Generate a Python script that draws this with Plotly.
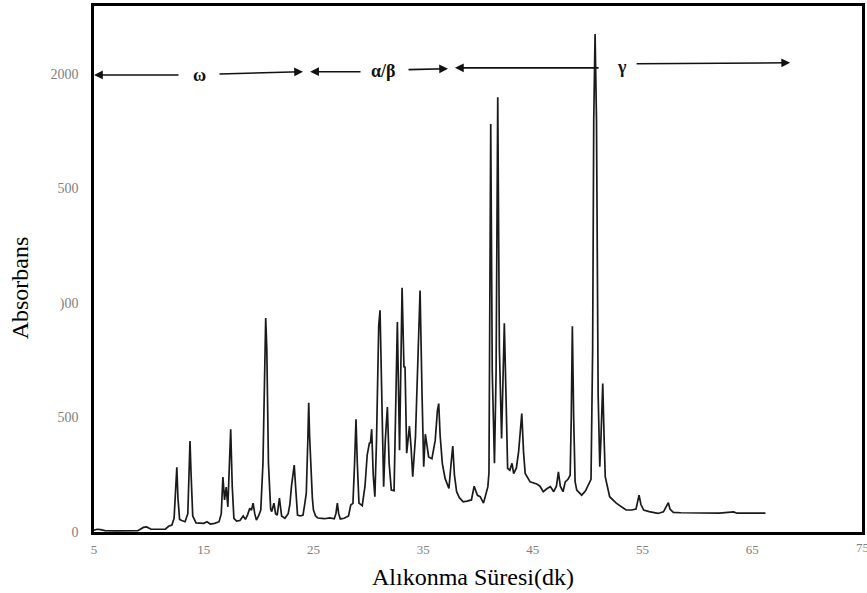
import plotly.graph_objects as go

retention_time = [
    5.0, 5.3, 5.6, 6.0, 7.0, 8.0, 9.0, 9.5, 9.8, 10.2, 11.0, 11.5, 11.8, 12.1, 12.3, 12.45, 12.55, 12.65, 12.8,
    13.0, 13.3, 13.55, 13.65, 13.75, 13.85, 14.0, 14.3, 15.0, 15.3, 15.6, 16.0, 16.4, 16.6, 16.75, 16.9, 17.05,
    17.2, 17.35, 17.46, 17.6, 17.75, 18.0, 18.3, 18.6, 18.8, 19.0, 19.2, 19.35, 19.5, 19.65, 19.8, 20.0, 20.2,
    20.4, 20.55, 20.65, 20.75, 20.9, 21.1, 21.2, 21.4, 21.55, 21.7, 21.9, 22.1, 22.4, 22.7, 22.85, 23.0, 23.1,
    23.25, 23.4, 23.55, 23.8, 24.05, 24.2, 24.35, 24.5, 24.57, 24.65, 24.75, 24.9, 25.0, 25.2, 25.4, 26.0, 26.5,
    26.9, 27.05, 27.18, 27.3, 27.45, 27.8, 28.2, 28.4, 28.6, 28.75, 28.88, 29.0, 29.15, 29.45, 29.7, 29.9, 30.1,
    30.2, 30.31, 30.45, 30.6, 30.75, 30.85, 30.95, 31.07, 31.2, 31.4, 31.55, 31.74, 31.9, 32.1, 32.35, 32.5,
    32.65, 32.85, 33.08, 33.25, 33.35, 33.5, 33.65, 33.75, 33.9, 34.05, 34.3, 34.55, 34.72, 34.9, 35.05, 35.2,
    35.35, 35.5, 35.8, 36.1, 36.3, 36.42, 36.55, 36.75, 37.0, 37.35, 37.55, 37.7, 37.85, 38.05, 38.3, 38.65,
    39.0, 39.4, 39.65, 39.95, 40.2, 40.5, 40.9, 41.0, 41.16, 41.3, 41.5, 41.65, 41.8, 41.95, 42.15, 42.25, 42.4,
    42.55, 42.7, 42.9, 43.1, 43.25, 43.5, 43.7, 43.85, 43.99, 44.15, 44.3, 44.75, 45.0, 45.35, 45.65, 45.95,
    46.3, 46.6, 46.9, 47.15, 47.33, 47.5, 47.75, 47.95, 48.2, 48.4, 48.5, 48.6, 48.72, 48.85, 49.0, 49.45, 49.8,
    50.05, 50.3, 50.45, 50.55, 50.67, 50.8, 50.95, 51.1, 51.2, 51.37, 51.5, 51.6, 52.0, 52.6, 53.5, 54.0, 54.4,
    54.55, 54.68, 54.85, 55.1, 55.6, 56.4, 56.9, 57.15, 57.35, 57.5, 57.8, 58.5, 60.0, 62.0, 63.3, 63.6, 65.0,
    66.2,
]
absorbance = [
    8, 12, 10, 6, 5, 5, 6, 20, 22, 12, 10, 12, 25, 30, 60, 200, 283, 150, 55,
    50, 45, 80, 300, 397, 250, 70, 40, 38, 45, 35, 38, 45, 80, 240, 140, 196,
    110, 300, 449, 200, 60, 48, 50, 70, 55, 75, 104, 95, 126, 80, 52, 70, 96,
    300, 800, 934, 800, 300, 100, 89, 126, 80, 74, 148, 70, 60, 80, 120, 200, 235,
    292, 180, 74, 70, 74, 120, 170, 420, 564, 420, 300, 150, 96, 70, 61, 58, 62,
    58, 80, 126, 80, 57, 60, 70, 118, 125, 300, 492, 300, 126, 115, 200, 336, 388,
    390, 449, 250, 154, 400, 758, 900, 968, 700, 198, 400, 546, 300, 183, 180, 500,
    917, 357, 1067, 721, 720, 344, 400, 462, 370, 241, 415, 800, 1055, 600, 285, 427,
    370, 328, 320, 400, 530, 561, 420, 299, 234, 190, 300, 375, 250, 176, 150, 132,
    135, 140, 200, 160, 154, 126, 198, 260, 1782, 700, 300, 700, 1898, 800, 408, 600, 912,
    600, 278, 270, 300, 255, 280, 350, 450, 517, 350, 256, 219, 215, 210, 200, 176,
    190, 198, 176, 200, 263, 200, 176, 219, 230, 248, 500, 898, 500, 220, 183, 161, 180,
    205, 230, 800, 1800, 2175, 1800, 600, 285, 400, 648, 400, 241, 154, 126, 96, 96, 100,
    140, 161, 120, 96, 89, 81, 88, 110, 128, 100, 86, 84, 83, 82, 88, 82, 82,
    82,
]

x_tick_values = [5, 15, 25, 35, 45, 55, 65]
x_tick_labels = ["5", "15", "25", "35", "45", "55", "65"]
x_last_tick = 75
x_last_label = "75"
y_tick_values = [0, 500, 1000, 1500, 2000]
y_tick_labels = ["0", "500", ")00", "500", "2000"]

x_title = "Alıkonma Süresi(dk)"
y_title = "Absorbans"

# Region arrows
region_labels = ["ω", "α/β", "γ"]
region_text_x = [14.66, 31.35, 53.13]
region_text_y = [1996, 2014, 2031]
left_tail_x = [12.84, 29.43, 51.13]
left_head_x = [5.0, 24.7, 37.9]
left_y = [1996, 2010, 2027]
right_tail_x = [16.3, 33.53, 54.32]
right_head_x = [24.05, 37.27, 68.45]
right_y_tail = [2000, 2019, 2045]
right_y_head = [2010, 2023, 2049]

fig = go.Figure()
fig.add_trace(go.Scatter(
    x=retention_time, y=absorbance, mode="lines",
    line=dict(color="#1a1a1a", width=1.7), showlegend=False, hoverinfo="skip",
))

serif = "Liberation Serif, Times New Roman, serif"
tick_font = dict(family=serif, size=13, color="#808080")
annotations = []
for i, lab in enumerate(region_labels):
    annotations.append(dict(
        x=region_text_x[i], y=region_text_y[i], xref="x", yref="y", text=f"<b>{lab}</b>",
        showarrow=False, font=dict(family=serif, size=18, color="#111"),
    ))
    annotations.append(dict(
        x=left_head_x[i], y=left_y[i], ax=left_tail_x[i], ay=left_y[i],
        xref="x", yref="y", axref="x", ayref="y", text="", showarrow=True,
        arrowhead=2, arrowsize=1.1, arrowwidth=1.6, arrowcolor="#111",
    ))
    annotations.append(dict(
        x=right_head_x[i], y=right_y_head[i], ax=right_tail_x[i], ay=right_y_tail[i],
        xref="x", yref="y", axref="x", ayref="y", text="", showarrow=True,
        arrowhead=2, arrowsize=1.1, arrowwidth=1.6, arrowcolor="#111",
    ))

# last x tick label (cut by the figure edge, as in the original)
annotations.append(dict(
    x=x_last_tick, y=0, xref="x", yref="paper", text=x_last_label, showarrow=False,
    xanchor="center", yanchor="top", yshift=-6, font=tick_font,
))
annotations.append(dict(
    x=0.494, y=-0.0856, xref="paper", yref="paper", text=x_title, showarrow=False,
    xanchor="center", yanchor="middle", font=dict(family=serif, size=24, color="black"),
))
annotations.append(dict(
    x=-0.0964, y=0.465, xref="paper", yref="paper", text=y_title, showarrow=False,
    textangle=-90, xanchor="center", yanchor="middle",
    font=dict(family=serif, size=24, color="black"),
))

fig.update_layout(
    width=867, height=593,
    margin=dict(l=94, r=5, t=6, b=61, autoexpand=False),
    paper_bgcolor="white", plot_bgcolor="white",
    annotations=annotations,
    font=dict(family=serif),
)
fig.update_xaxes(
    range=[5, 75], tickvals=x_tick_values, ticktext=x_tick_labels,
    showgrid=False, zeroline=False, showline=True, mirror=True, automargin=False,
    linecolor="black", linewidth=2.5, ticks="", ticklabelstandoff=4,
    tickfont=tick_font,
)
fig.update_yaxes(
    range=[0, 2297], tickvals=y_tick_values, ticktext=y_tick_labels,
    showgrid=False, zeroline=False, showline=True, mirror=True, automargin=False,
    linecolor="black", linewidth=2.5, ticks="", ticklabelstandoff=10,
    tickfont=dict(family=serif, size=14, color="#808080"),
)

fig.write_html("out.html")
